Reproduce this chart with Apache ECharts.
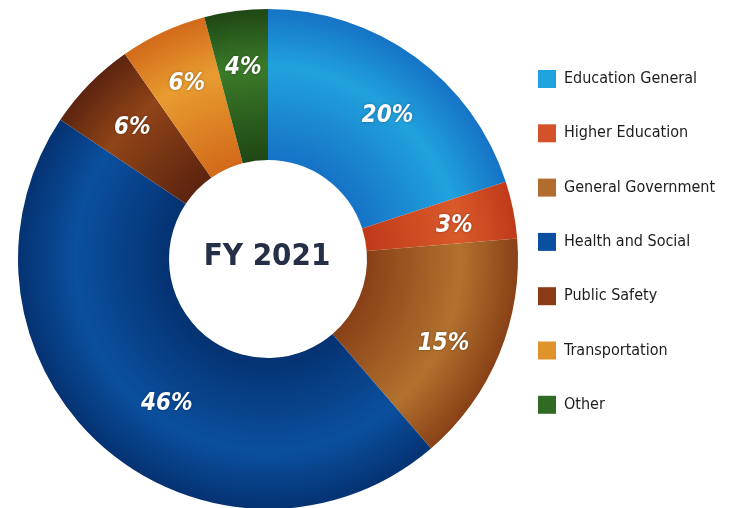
<!DOCTYPE html>
<html>
<head>
<meta charset="utf-8">
<script src="https://cdn.jsdelivr.net/npm/echarts@6/dist/echarts.min.js"></script>
<style>
html,body{margin:0;padding:0;background:#ffffff;}
#chart{width:732px;height:508px;}
</style>
</head>
<body>
<div id="chart"></div>
<script>
const categories = ['Education General','Higher Education','General Government','Health and Social','Public Safety','Transportation','Other'];
const values = [20, 3.7, 15, 45.7, 5.9, 5.6, 4.1];
const percentLabels = ['20%','3%','15%','46%','6%','6%','4%'];
const legendColors = ['#1fa3df','#d4522a','#b26c2e','#0b4fa0','#8b3a16','#e0932a','#2f6b22'];
const lightColors = ['#21a2dd','#da5a2a','#b2722f','#0a509e','#904418','#e89c30','#3b7b29'];
const darkColors  = ['#1673c6','#c03a1a','#884116','#053272','#5c240f','#d26a1a','#1e4715'];

const CX = 268, CY = 259, R0 = 99, R1 = 250;

function grad(i){
  return {
    type:'radial', x: CX, y: CY, r: R1, global: true,
    colorStops:[
      {offset:0, color: darkColors[i]},
      {offset:0.40, color: darkColors[i]},
      {offset:0.77, color: lightColors[i]},
      {offset:1, color: darkColors[i]}
    ]
  };
}

const labelShift = {0:{dx:6, dy:13}, 1:{dx:-3, dy:5}, 2:{dx:-3, dy:11}, 3:{dx:27, dy:0}, 4:{dx:2, dy:4}};

const chart = echarts.init(document.getElementById('chart'));
const fontNarrow = '"DejaVu Sans Condensed","Liberation Sans Narrow",sans-serif';

chart.setOption({
  backgroundColor:'#ffffff',
  animation:false,
  title:{
    text:'FY 2021',
    left: CX - 1, top: CY - 2,
    padding:0,
    textAlign:'center', textVerticalAlign:'middle',
    textStyle:{color:'#262f48', fontSize:31, fontWeight:'bold', fontFamily: fontNarrow}
  },
  legend:{
    orient:'vertical',
    left: 538, top: 70,
    padding:0,
    itemWidth:18, itemHeight:18, itemGap:36.3,
    icon:'rect',
    textStyle:{color:'#1c1c1c', fontSize:16, fontFamily: fontNarrow, padding:[0,0,0,3]},
    data: categories.map((c,i)=>({name:c, itemStyle:{color:legendColors[i]}}))
  },
  series:[
    {
      type:'pie',
      center:[CX, CY],
      radius:[R0, R1],
      startAngle:90,
      clockwise:true,
      label:{show:false},
      labelLine:{show:false},
      emphasis:{disabled:true},
      data: categories.map((c,i)=>({name:c, value:values[i], itemStyle:{color:grad(i)}}))
    },
    {
      type:'pie',
      center:[CX, CY],
      radius:[130, R1],
      startAngle:90,
      clockwise:true,
      silent:true,
      itemStyle:{color:'rgba(0,0,0,0)'},
      label:{
        show:true, position:'inside',
        color:'#ffffff', fontSize:24, fontWeight:'bold', fontStyle:'italic',
        fontFamily: fontNarrow,
        textShadowColor:'rgba(0,0,0,0.35)', textShadowBlur:3,
        formatter: p => percentLabels[p.dataIndex]
      },
      labelLine:{show:false},
      labelLayout: p => (labelShift[p.dataIndex] || {}),
      emphasis:{disabled:true},
      data: categories.map((c,i)=>({name:c, value:values[i]}))
    }
  ]
});
</script>
</body>
</html>
